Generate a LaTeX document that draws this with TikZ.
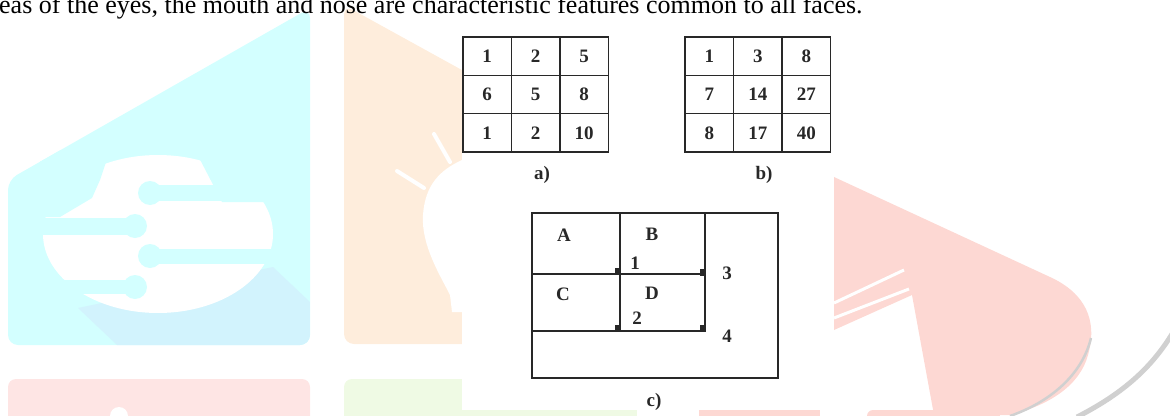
\documentclass[tikz,border=0pt]{standalone}
\usepackage{fontspec}
\setmainfont{Liberation Serif}
\usetikzlibrary{positioning}
\definecolor{ink}{RGB}{40,40,40}
\definecolor{cyanbg}{RGB}{211,255,255}
\definecolor{cyanshade}{RGB}{210,243,253}
\definecolor{orangebg}{RGB}{254,237,220}
\definecolor{pinkbg}{RGB}{254,229,228}
\definecolor{greenbg}{RGB}{239,250,228}
\definecolor{redbg}{RGB}{253,216,211}
\definecolor{arcgray}{RGB}{208,208,208}
\tikzset{
  pics/cells/.style 2 args={
    code = {
        \foreach \x [count=\xi, evaluate=\xi as \sep using #2*\xi] in {#1} {
            \node (c\xi) [cell] at (\sep, 0) {\x};
        }
    }
  },
  cell/.style={draw=ink, line width=1.6pt, minimum width=48.5pt, minimum height=38.3pt,
    inner sep=0pt, text=ink, font=\fontsize{19}{21}\selectfont\bfseries},
  lbl/.style={inner sep=0pt, text=ink, font=\fontsize{19}{21}\selectfont\bfseries},
  fig/.style={draw=ink, line width=1.6pt},
  stripe/.style={cyanbg, line width=17pt}
}
\begin{document}
\begin{tikzpicture}[x=1pt, y=-1pt]
            \useasboundingbox (0,0) rectangle (1170,415);
            \clip (0,0) rectangle (1170,415);
            % logo in the background
            \fill[cyanbg, rounded corners=10] (8,345) -- (8,180) -- (310,8) -- (310,345) -- cycle;
            \begin{scope}
                \clip[rounded corners=10] (8,345) -- (8,180) -- (310,8) -- (310,345) -- cycle;
                \fill[cyanshade] (78,308) -- (273,267) -- (310,302) -- (310,345) -- (117,345) -- cycle;
                \fill[white] (158,234) ellipse [x radius=115, y radius=79];
                \fill[cyanbg] (40,150) -- (110,150) -- (100,180) -- (92,198) -- (60,217) -- (40,217) -- cycle;
                \fill[cyanbg] (195,150) -- (280,150) -- (280,202) -- (222,202) -- (207,173) -- cycle;
                \draw[stripe] (35,226) -- (135,226);
                \draw[stripe, line width=16pt] (150,193) -- (260,193);
                \draw[stripe, line width=15pt] (150,256) -- (280,256);
                \draw[stripe, line width=14pt] (35,287) -- (135,287);
                \foreach \cx/\cy in {135/226, 150/193, 150/256, 135/287}
                    \fill[cyanbg] (\cx,\cy) circle (12);
            \end{scope}
            \fill[orangebg, rounded corners=10] (344,344) -- (344,5) -- (480,80) -- (480,344) -- cycle;
            \fill[white] (462,160) .. controls (440,170) and (425,185) .. (423,215)
                .. controls (421,245) and (440,275) .. (450,295) -- (452,312) -- (462,312) -- cycle;
            \draw[white, line width=4pt, line cap=round] (434,134) -- (450,162) (397,171) -- (424,188);
            \fill[redbg] (820,170) -- (834,177) -- (1050,277) .. controls (1085,293) and (1098,320) .. (1088,355)
                .. controls (1080,385) and (1050,405) .. (1010,415) -- (934,415) -- (912,295) -- (834,330) -- (820,330) -- cycle;
            \draw[white, line width=3pt] (834,303) -- (904,270) (834,318) -- (909,289);
            \draw[arcgray, line width=2.5pt] (1091,338) .. controls (1082,375) and (1050,402) .. (1010,416);
            \draw[arcgray, line width=5pt] (1172,334) .. controls (1150,370) and (1120,395) .. (1077,417);
            \fill[pinkbg, rounded corners=8] (8,430) -- (8,379) -- (310,379) -- (310,430) -- cycle;
            \fill[white] (119,416) circle (9);
            \fill[greenbg, rounded corners=8] (344,430) -- (344,379) -- (470,379) -- (470,430) -- cycle;
            \fill[greenbg] (462,410) rectangle (637,430);
            \fill[redbg] (699,410) rectangle (820,430);
            \fill[redbg, rounded corners=6] (867,430) -- (867,410) -- (1000,410) -- (1000,430) -- cycle;
            \fill[white] (462,22) rectangle (834,410);
            % grid a) and grid b)
            \pic (ga1) at (438.7,56.2) {cells={1, 2, 5}{48.5}};
            \pic (ga2) at (438.7,94.5) {cells={6, 5, 8}{48.5}};
            \pic (ga3) at (438.7,132.8) {cells={1, 2, 10}{48.5}};
            \pic (gb1) at (660.8,56.2) {cells={1, 3, 8}{48.5}};
            \pic (gb2) at (660.8,94.5) {cells={7, 14, 27}{48.5}};
            \pic (gb3) at (660.8,132.8) {cells={8, 17, 40}{48.5}};
            \node (capa) [lbl] at (542,175) {a)};
            \node (capb) [lbl] at (764,175) {b)};
            % figure c)
            \draw[fig] (532,213) rectangle (778,378);
            \draw[fig] (620,213) -- (620,332) (705,213) -- (705,332);
            \draw[fig] (532,274) -- (705,274) (532,331) -- (705,331);
            \foreach \sx/\sy in {615/268, 700/269, 615/325, 700/325}
                \fill[ink] (\sx,\sy) rectangle +(6,7);
            \node (pa) [lbl] at (564,235) {A};
            \node (pb) [lbl] at (652,234) {B};
            \node (pc) [lbl] at (563,294) {C};
            \node (pd) [lbl] at (652,293) {D};
            \node (n1) [lbl] at (635,263) {1};
            \node (n2) [lbl] at (637,318) {2};
            \node (n3) [lbl] at (727,273) {3};
            \node (n4) [lbl] at (727,336) {4};
            \node (capc) [lbl] at (654,402) {c)};
            \node (line) [anchor=base west, inner sep=0pt, font=\fontsize{26}{30}\selectfont] at (-1,13)
                {eas of the eyes, the mouth and nose are characteristic features common to all faces.};
\end{tikzpicture}
\end{document}
